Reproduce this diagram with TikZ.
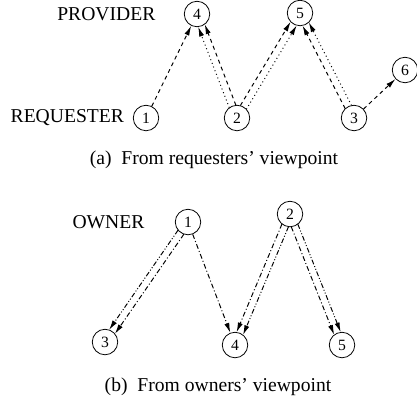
\documentclass[tikz,border=0pt]{standalone}
\usepackage{fontspec}
\setmainfont{Liberation Serif}
\usetikzlibrary{arrows.meta,calc,positioning}
\tikzset{
  peer/.style={draw,circle,inner sep=0pt,minimum size=13pt,font=\footnotesize},
  link/.style={line width=0.5pt,-{Latex[length=5pt,width=2.6pt]}},
  ask/.style={link,dash pattern=on 2pt off 1.8pt},
  askb/.style={link,dash pattern=on 0.5pt off 1.5pt},
  grant/.style={link,dash pattern=on 2.5pt off 1.2pt on 0.5pt off 1.2pt},
  grantb/.style={link,dash pattern=on 2.5pt off 1pt on 0.5pt off 1pt on 0.5pt off 1pt},
  pair/.style={shorten <=6.3pt,shorten >=6.3pt}
}
\newcommand{\twin}[4]{%
  \draw[#3,pair] ($(#1)!1.8pt!90:(#2)$) -- ($(#2)!1.8pt!-90:(#1)$);
  \draw[#4,pair] ($(#1)!1.8pt!-90:(#2)$) -- ($(#2)!1.8pt!90:(#1)$);}
\begin{document}
\begin{tikzpicture}[x=0.51pt,y=-0.51pt]
\useasboundingbox (0,0) rectangle (417,404);
% requesters' view
\node[peer] (a1) at (146,118) {1};
\node[peer] (a2) at (237,118) {2};
\node[peer] (a3) at (354,118) {3};
\node[peer] (a4) at (197,14) {4};
\node[peer] (a5) at (300,13) {5};
\node[peer] (a6) at (405,70) {6};
\node[left=11pt of a4] (prov) {PROVIDER};
\node[left=1pt of a1] (req) {REQUESTER};
\draw[ask] (a1) -- (a4);
\twin{a2}{a4}{askb}{ask}
\twin{a2}{a5}{ask}{askb}
\twin{a3}{a5}{ask}{askb}
\draw[ask] (a3) -- (a6);
\node (capa) at (214,160) {(a)\enspace From requesters' viewpoint};
% owners' view
\node[peer] (b1) at (188,222) {1};
\node[peer] (b2) at (290,214) {2};
\node[peer] (b3) at (105,342) {3};
\node[peer] (b4) at (235,345) {4};
\node[peer] (b5) at (342,345) {5};
\node[left=12pt of b1] (own) {OWNER};
\twin{b1}{b3}{grant}{grantb}
\draw[grant] (b1) -- (b4);
\twin{b2}{b4}{grantb}{grant}
\twin{b2}{b5}{grantb}{grant}
\node (capb) at (218,387) {(b)\enspace From owners' viewpoint};
\end{tikzpicture}
\end{document}
